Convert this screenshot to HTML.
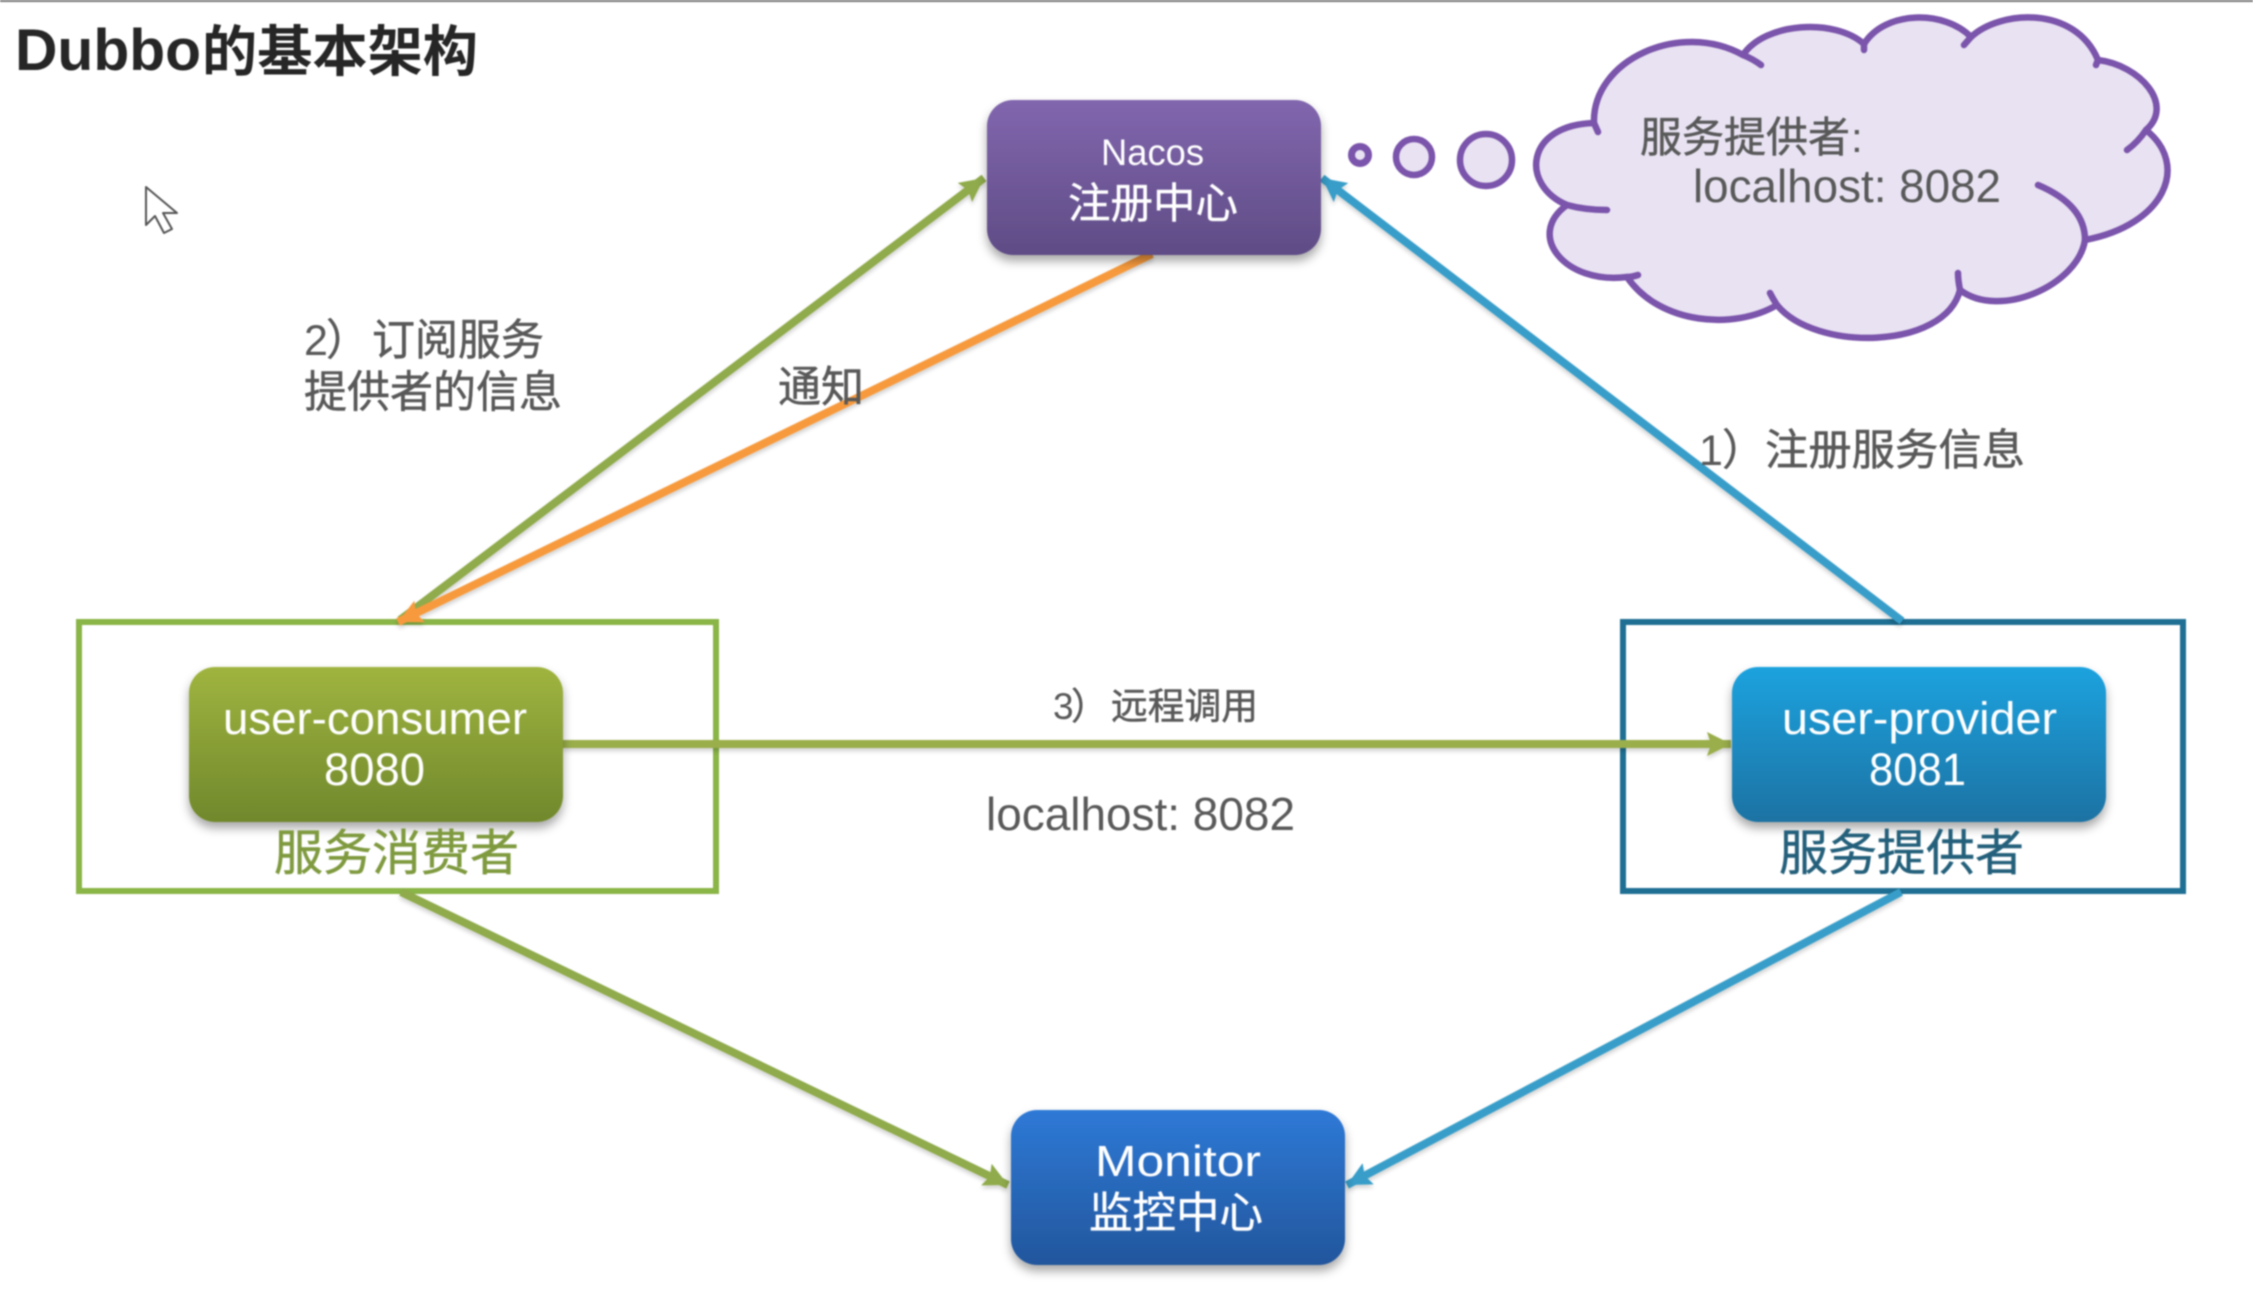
<!DOCTYPE html>
<html><head><meta charset="utf-8"><title>Dubbo的基本架构</title>
<style>
html,body{margin:0;padding:0;background:#fff;width:2253px;height:1289px;overflow:hidden}
svg{display:block;filter:blur(.7px)}
text{font-family:"Liberation Sans","Noto Sans CJK SC",sans-serif;fill:#595959}
.cjk{font-family:"Noto Sans CJK SC","Liberation Sans",sans-serif}
.g{stroke:#595959;stroke-width:.5px}
.wt{stroke:#fff;stroke-width:.4px}
</style></head><body>
<svg xmlns="http://www.w3.org/2000/svg" width="2253" height="1289" viewBox="0 0 2253 1289">
<defs>
<linearGradient id="gp" x1="0" y1="0" x2="0" y2="1"><stop offset="0" stop-color="#8166ae"/><stop offset="1" stop-color="#5f4c85"/></linearGradient>
<linearGradient id="gg" x1="0" y1="0" x2="0" y2="1"><stop offset="0" stop-color="#9fb43f"/><stop offset="1" stop-color="#70882c"/></linearGradient>
<linearGradient id="gb" x1="0" y1="0" x2="0" y2="1"><stop offset="0" stop-color="#1fa2de"/><stop offset="1" stop-color="#1a72a3"/></linearGradient>
<linearGradient id="gm" x1="0" y1="0" x2="0" y2="1"><stop offset="0" stop-color="#2e79d6"/><stop offset="1" stop-color="#22569c"/></linearGradient>
<filter id="sh" x="-10%" y="-10%" width="120%" height="125%"><feDropShadow dx="0" dy="6" stdDeviation="5" flood-color="#000" flood-opacity=".35"/></filter>
<filter id="ls" x="-5%" y="-5%" width="110%" height="110%"><feDropShadow dx="0" dy="3" stdDeviation="2" flood-color="#000" flood-opacity=".18"/></filter>
<marker id="mg" markerUnits="userSpaceOnUse" markerWidth="26" markerHeight="24" refX="24" refY="12" orient="auto"><path d="M0,0 L24,12 L0,24 L4,12 z" fill="#8fab4b"/></marker>
<marker id="mh" markerUnits="userSpaceOnUse" markerWidth="26" markerHeight="24" refX="24" refY="12" orient="auto"><path d="M0,0 L24,12 L0,24 L4,12 z" fill="#9aae4b"/></marker>
<marker id="mb" markerUnits="userSpaceOnUse" markerWidth="26" markerHeight="24" refX="24" refY="12" orient="auto"><path d="M0,0 L24,12 L0,24 L4,12 z" fill="#399ec9"/></marker>
<marker id="mo" markerUnits="userSpaceOnUse" markerWidth="26" markerHeight="24" refX="24" refY="12" orient="auto"><path d="M0,0 L24,12 L0,24 L4,12 z" fill="#f79a3c"/></marker>
</defs>
<rect width="2253" height="1289" fill="#fff"/>
<rect width="2253" height="2" fill="#7a7a7a"/>

<text x="15" y="70" font-size="58" font-weight="700" style="fill:#262626" textLength="186" lengthAdjust="spacingAndGlyphs">Dubbo</text>
<text class="cjk" x="202" y="71" font-size="55" font-weight="700" style="fill:#262626" textLength="276" lengthAdjust="spacingAndGlyphs">的基本架构</text>

<path d="M146,187 L146,225 L155,216 L164,233 L172,229 L163,213 L177,213 Z" fill="#fff" stroke="#555" stroke-width="2" stroke-linejoin="round"/>

<!-- containers -->
<rect x="79" y="622" width="637" height="269" fill="none" stroke="#8ab547" stroke-width="6"/>
<rect x="1623" y="622" width="560" height="269" fill="none" stroke="#1e6f93" stroke-width="6"/>

<!-- connectors -->
<g fill="none" filter="url(#ls)" stroke-width="8">
<line x1="400" y1="620" x2="984" y2="178" stroke="#8fab4b" marker-end="url(#mg)"/>
<line x1="1902" y1="621" x2="1322" y2="178" stroke="#399ec9" marker-end="url(#mb)"/>
<line x1="1152" y1="254" x2="398" y2="622" stroke="#f79a3c" marker-end="url(#mo)"/>
<line x1="563" y1="744" x2="1731" y2="744" stroke="#9aae4b" marker-end="url(#mh)"/>
<line x1="401" y1="892" x2="1008" y2="1185" stroke="#8fab4b" marker-end="url(#mg)"/>
<line x1="1901" y1="892" x2="1347" y2="1185" stroke="#399ec9" marker-end="url(#mb)"/>
</g>

<!-- nodes -->
<rect x="987" y="100" width="334" height="155" rx="26" fill="url(#gp)" filter="url(#sh)"/>
<rect x="189" y="667" width="374" height="155" rx="26" fill="url(#gg)" filter="url(#sh)"/>
<rect x="1732" y="667" width="374" height="155" rx="26" fill="url(#gb)" filter="url(#sh)"/>
<rect x="1011" y="1110" width="334" height="155" rx="26" fill="url(#gm)" filter="url(#sh)"/>

<text style="fill:#fff" x="1101" y="165" font-size="37" textLength="103" lengthAdjust="spacingAndGlyphs">Nacos</text>
<text class="cjk wt" style="fill:#fff" x="1068" y="218" font-size="42" textLength="170" lengthAdjust="spacingAndGlyphs">注册中心</text>
<text style="fill:#fff" x="223" y="734" font-size="45" textLength="304" lengthAdjust="spacingAndGlyphs">user-consumer</text>
<text style="fill:#fff" x="324" y="785" font-size="45" textLength="101" lengthAdjust="spacingAndGlyphs">8080</text>
<text style="fill:#fff" x="1782" y="734" font-size="45" textLength="275" lengthAdjust="spacingAndGlyphs">user-provider</text>
<text style="fill:#fff" x="1869" y="785" font-size="45" textLength="97" lengthAdjust="spacingAndGlyphs">8081</text>
<text style="fill:#fff" x="1095" y="1176" font-size="44" textLength="166" lengthAdjust="spacingAndGlyphs">Monitor</text>
<text class="cjk wt" style="fill:#fff" x="1089" y="1228" font-size="43" textLength="174" lengthAdjust="spacingAndGlyphs">监控中心</text>

<text class="cjk" x="274" y="870" font-size="49" style="fill:#7f9a3f;stroke:#7f9a3f;stroke-width:.5px" textLength="245" lengthAdjust="spacingAndGlyphs">服务消费者</text>
<text class="cjk" x="1779" y="870" font-size="49" style="fill:#24607b;stroke:#24607b;stroke-width:.5px" textLength="245" lengthAdjust="spacingAndGlyphs">服务提供者</text>

<!-- labels -->
<text x="304" y="355" font-size="43">2</text>
<text class="cjk g" x="326" y="355" font-size="43">）</text>
<text class="cjk g" x="372" y="355" font-size="43" textLength="172" lengthAdjust="spacingAndGlyphs">订阅服务</text>
<text class="cjk g" x="304" y="407" font-size="44" textLength="258" lengthAdjust="spacingAndGlyphs">提供者的信息</text>
<text class="cjk g" x="778" y="402" font-size="43" textLength="86" lengthAdjust="spacingAndGlyphs">通知</text>
<text x="1699" y="465" font-size="43">1</text>
<text class="cjk g" x="1722" y="465" font-size="43">）</text>
<text class="cjk g" x="1765" y="465" font-size="43" textLength="260" lengthAdjust="spacingAndGlyphs">注册服务信息</text>
<text x="1053" y="719" font-size="37">3</text>
<text class="cjk g" x="1071" y="719" font-size="37">）</text>
<text class="cjk g" x="1111" y="719" font-size="37" textLength="147" lengthAdjust="spacingAndGlyphs">远程调用</text>
<text x="986" y="830" font-size="46" textLength="309" lengthAdjust="spacingAndGlyphs">localhost: 8082</text>

<!-- thought bubbles -->
<g fill="#e8e2f2" stroke="#7b54ab">
<circle cx="1360" cy="155" r="8.5" stroke-width="7"/>
<circle cx="1414" cy="157" r="18" stroke-width="6.5"/>
<circle cx="1486" cy="160" r="26" stroke-width="6.5"/>
</g>

<!-- cloud -->
<path d="M1594,123 C1592,60 1680,20 1743,55 C1765,22 1835,18 1864,44 C1885,10 1945,10 1971,37 C2000,10 2075,5 2098,60 C2140,65 2175,105 2146,130 C2190,165 2165,225 2085,240 C2078,285 2000,320 1960,290 C1945,350 1815,352 1777,305 C1735,330 1660,325 1627,277 C1565,285 1525,235 1567,205 C1520,185 1525,125 1594,123 Z" fill="#e8e2f2" stroke="#7b54ab" stroke-width="6.5" stroke-linejoin="round"/>
<g fill="none" stroke="#7b54ab" stroke-width="6.5" stroke-linecap="round">
<path d="M1743,55 Q1753,59 1761,65"/>
<path d="M1864,44 L1864,50"/>
<path d="M1971,37 L1964,45"/>
<path d="M2098,60 L2096,65"/>
<path d="M2146,130 Q2138,142 2127,150"/>
<path d="M2038,185 Q2085,205 2085,240"/>
<path d="M1960,290 Q1958,280 1958,273"/>
<path d="M1777,305 Q1773,299 1770,293"/>
<path d="M1627,277 Q1632,277 1638,275"/>
<path d="M1567,205 Q1585,210 1607,210"/>
<path d="M1594,123 L1598,132"/>
</g>
<text class="cjk g" x="1640" y="152" font-size="42" textLength="210" lengthAdjust="spacingAndGlyphs">服务提供者</text>
<text x="1851" y="152" font-size="42">:</text>
<text x="1693" y="202" font-size="46" textLength="308" lengthAdjust="spacingAndGlyphs">localhost: 8082</text>
</svg>
</body></html>
